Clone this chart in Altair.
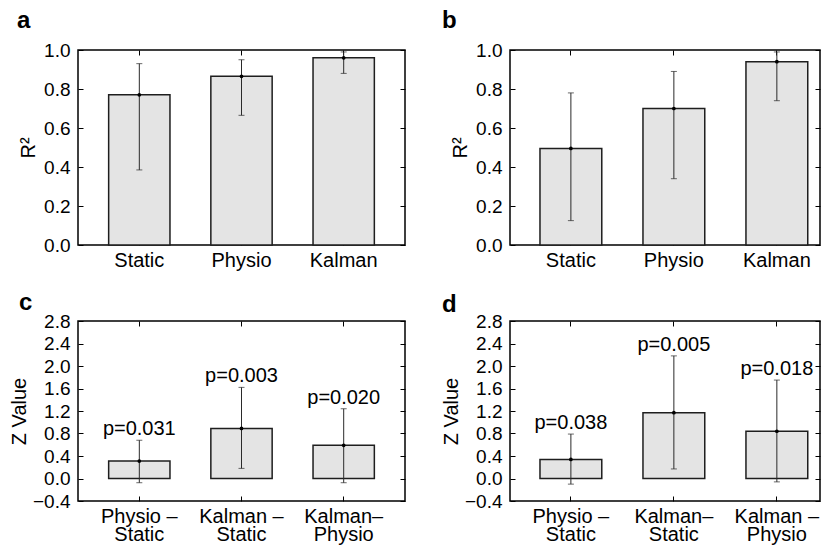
import altair as alt
import pandas as pd

FONT = "Liberation Sans"

# ---------- data ----------
r2_categories = ["Static", "Physio", "Kalman"]

a_mean = [0.77, 0.865, 0.96]
a_low = [0.385, 0.665, 0.88]
a_high = [0.93, 0.95, 0.99]

b_mean = [0.495, 0.70, 0.94]
b_low = [0.125, 0.34, 0.74]
b_high = [0.78, 0.89, 0.99]

c_categories = ["Physio –\nStatic", "Kalman –\nStatic", "Kalman–\nPhysio"]
c_mean = [0.31, 0.89, 0.59]
c_low = [-0.075, 0.18, -0.075]
c_high = [0.68, 1.62, 1.24]
c_p = ["p=0.031", "p=0.003", "p=0.020"]

d_categories = ["Physio –\nStatic", "Kalman–\nStatic", "Kalman –\nPhysio"]
d_mean = [0.34, 1.17, 0.84]
d_low = [-0.10, 0.17, -0.06]
d_high = [0.79, 2.18, 1.75]
d_p = ["p=0.038", "p=0.005", "p=0.018"]

r2_ticks = [0.0, 0.2, 0.4, 0.6, 0.8, 1.0]
z_ticks = [-0.4, 0.0, 0.4, 0.8, 1.2, 1.6, 2.0, 2.4, 2.8]


def panel(letter, cats, mean, low, high, ydomain, yticks, ytitle, ytitle_size,
          ytitle_pad, height, width, pad_outer, align, title_dx, title_dy,
          pvals=None):
    data = {"cat": cats, "mean": mean, "low": low, "high": high}
    if pvals is not None:
        data["p"] = pvals
    df = pd.DataFrame(data)

    xscale = alt.Scale(domain=cats, paddingInner=0.4, paddingOuter=pad_outer, align=align)
    yscale = alt.Scale(domain=ydomain, nice=False, zero=False)

    x_bottom = alt.X(
        "cat:N", sort=cats, scale=xscale, title=None,
        axis=alt.Axis(orient="bottom", offset=-5, tickSize=5, labelPadding=5,
                      domain=False, grid=False, labelAngle=0, labelFontSize=20,
                      labelExpr="split(datum.label, '\\n')", labelLineHeight=18,
                      labelBaseline="top", minExtent=0))
    y_left = alt.Y(
        "mean:Q", scale=yscale, title=ytitle,
        axis=alt.Axis(orient="left", offset=-5, tickSize=5, labelPadding=8,
                      values=yticks, format=".1f", domain=False, grid=False,
                      labelFontSize=19, titleFontSize=ytitle_size,
                      titlePadding=ytitle_pad, titleFontWeight="normal", minExtent=0))
    x_top = alt.X(
        "cat:N", sort=cats, scale=xscale, title=None,
        axis=alt.Axis(orient="top", offset=-5, tickSize=5, labels=False,
                      domain=False, grid=False, minExtent=0, maxExtent=0))
    y_right = alt.Y(
        "low:Q", scale=yscale, title=None,
        axis=alt.Axis(orient="right", offset=-5, tickSize=5, labels=False,
                      values=yticks, domain=False, grid=False, minExtent=0,
                      maxExtent=0))

    base = alt.Chart(df)
    bars = base.mark_bar(fill="#e4e4e4", stroke="#1e1e1e", strokeWidth=1.5).encode(
        x=x_bottom, y=y_left)
    err = base.mark_rule(color="#2a2a2a", strokeWidth=1).encode(
        x=x_top, y=y_right, y2="high:Q")
    cap_lo = base.mark_tick(color="#2a2a2a", size=6, thickness=1, orient="horizontal").encode(
        x=alt.X("cat:N", sort=cats, scale=xscale, axis=None),
        y=alt.Y("low:Q", scale=yscale, axis=None))
    cap_hi = base.mark_tick(color="#2a2a2a", size=6, thickness=1, orient="horizontal").encode(
        x=alt.X("cat:N", sort=cats, scale=xscale, axis=None),
        y=alt.Y("high:Q", scale=yscale, axis=None))
    dots = base.mark_point(filled=True, color="black", size=14, opacity=1).encode(
        x=alt.X("cat:N", sort=cats, scale=xscale, axis=None),
        y=alt.Y("mean:Q", scale=yscale, axis=None))
    layers = [bars, err, cap_lo, cap_hi, dots]
    if pvals is not None:
        txt = base.mark_text(baseline="alphabetic", dy=-5, fontSize=20, font=FONT,
                             color="black").encode(
            x=alt.X("cat:N", sort=cats, scale=xscale, axis=None),
            y=alt.Y("high:Q", scale=yscale, axis=None),
            text="p:N")
        layers.append(txt)

    return alt.layer(*layers).resolve_axis(x="independent", y="independent").properties(
        width=width, height=height,
        title=alt.TitleParams(letter, anchor="start", frame="group", dx=title_dx,
                              dy=title_dy, fontSize=24, fontWeight="bold", font=FONT,
                              baseline="alphabetic", offset=15, color="black"))


pa = panel("a", r2_categories, a_mean, a_low, a_high, [0, 1], r2_ticks, "R²", 20, 5,
           195, 327, 0.3, 0.5, -61, 26)
pb = panel("b", r2_categories, b_mean, b_low, b_high, [0, 1], r2_ticks, "R²", 20, 5,
           195, 310, 0.205, 0.71, -68, 26)
pc = panel("c", c_categories, c_mean, c_low, c_high, [-0.4, 2.8], z_ticks, "Z Value", 20, 3,
           180, 327, 0.3, 0.5, -59, 37, pvals=c_p)
pd_ = panel("d", d_categories, d_mean, d_low, d_high, [-0.4, 2.8], z_ticks, "Z Value", 20, 3,
            180, 310, 0.205, 0.71, -68, 39, pvals=d_p)

chart = alt.concat(pa, pb, pc, pd_, columns=2, bounds="flush",
                   spacing={"row": 76, "column": 105}).properties(
    padding={"left": 0, "top": 0, "right": 0, "bottom": 0},
    background="white"
).configure_view(stroke="black", strokeWidth=1.5).configure_axis(
    labelFont=FONT, titleFont=FONT, labelColor="black", titleColor="black",
    tickColor="black", tickWidth=1, grid=False, titleFontWeight="normal"
)

chart.save("out.html", embed_options={"renderer": "svg", "actions": False})
